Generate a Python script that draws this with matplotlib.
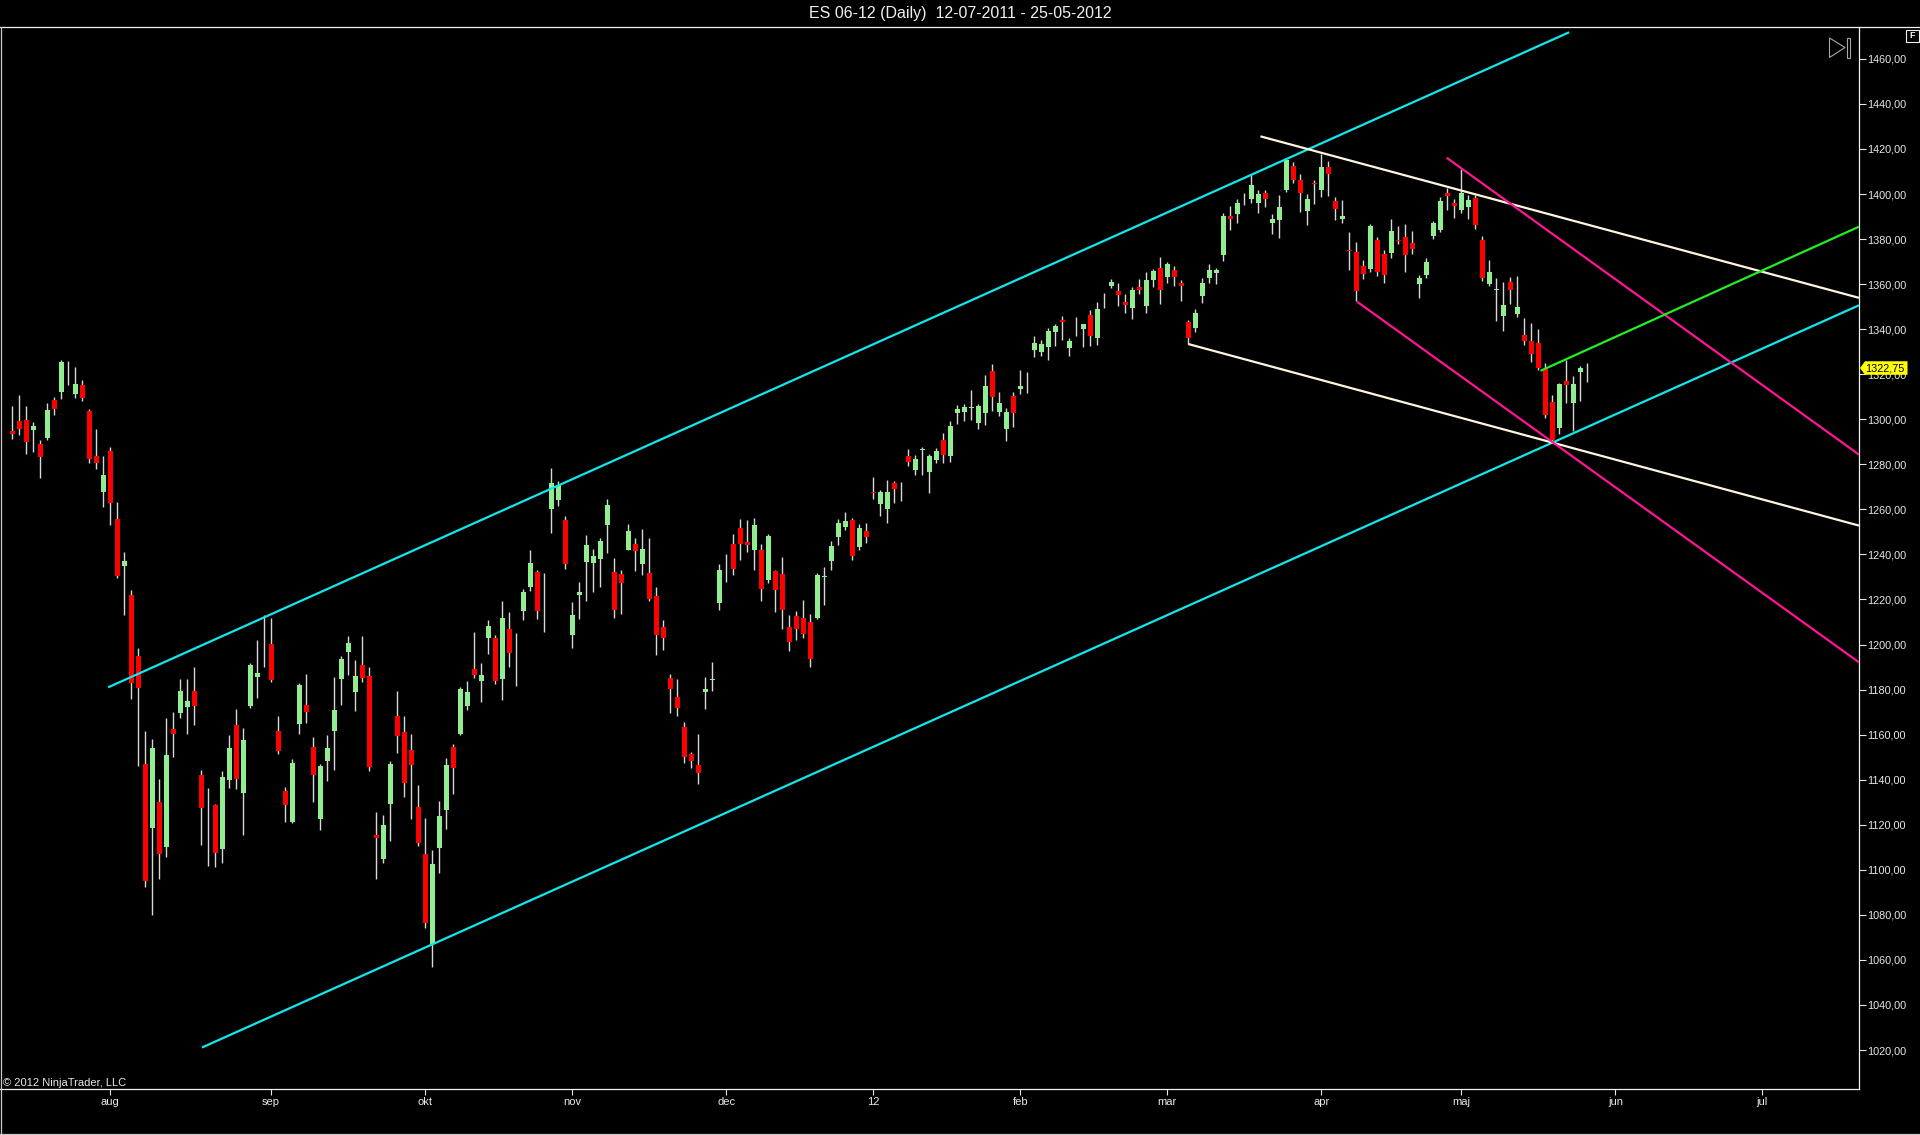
import matplotlib
matplotlib.use("Agg")
import numpy as np
import matplotlib.pyplot as plt
import matplotlib.transforms as mtransforms
from matplotlib.patches import Polygon, Rectangle
from matplotlib.lines import Line2D

plt.rcParams['font.family'] = ['Liberation Sans', 'DejaVu Sans']

# ES 06-12 daily bars 12-07-2011 .. 25-05-2012, one entry per trading day
opens = [1294.7, 1299.1, 1299.6, 1295.3, 1288.9, 1291.6, 1308.4, 1312.0, 1320.5, 1311.2,
         1315.1, 1303.7, 1283.6, 1267.8, 1285.8, 1255.6, 1235.0, 1221.9, 1194.7, 1146.8,
         1118.6, 1130.0, 1110.1, 1162.4, 1169.6, 1172.3, 1179.2, 1141.9, 1121.0, 1128.6,
         1109.2, 1139.8, 1164.1, 1134.0, 1172.6, 1185.5, 1204.0, 1200.2, 1161.4, 1135.2,
         1121.3, 1164.8, 1173.0, 1154.4, 1122.5, 1148.3, 1161.6, 1184.5, 1196.8, 1178.9,
         1191.0, 1185.9, 1115.3, 1104.6, 1129.4, 1168.5, 1161.0, 1153.4, 1127.7, 1107.2,
         1067.0, 1109.6, 1126.6, 1154.7, 1160.3, 1172.6, 1189.3, 1183.9, 1202.9, 1202.9,
         1184.8, 1206.9, 1194.0, 1214.9, 1225.6, 1232.1, 1217.0, 1260.2, 1264.2, 1255.1,
         1204.2, 1222.0, 1236.6, 1236.3, 1237.9, 1253.1, 1232.3, 1231.2, 1242.1, 1244.8,
         1235.7, 1231.6, 1221.4, 1208.0, 1185.0, 1176.9, 1163.6, 1151.6, 1146.7, 1178.9,
         1184.2, 1218.4, 1235.0, 1244.5, 1251.6, 1245.4, 1241.8, 1241.8, 1228.5, 1232.5,
         1231.1, 1208.0, 1212.5, 1211.9, 1209.8, 1211.8, 1230.0, 1236.9, 1247.7, 1252.0,
         1255.1, 1243.1, 1250.2, 1267.6, 1262.2, 1260.0, 1271.6, 1268.5, 1283.6, 1277.3,
         1286.5, 1276.4, 1281.8, 1290.7, 1283.8, 1302.9, 1303.3, 1305.0, 1298.4, 1302.9,
         1321.4, 1303.3, 1295.6, 1310.3, 1313.4, 1316.5, 1330.7, 1329.8, 1332.0, 1338.7,
         1343.7, 1331.6, 1340.5, 1340.0, 1346.2, 1336.0, 1352.5, 1359.1, 1356.9, 1352.0,
         1349.4, 1358.7, 1350.2, 1361.8, 1367.1, 1363.1, 1366.2, 1360.5, 1343.1, 1340.5,
         1354.7, 1362.7, 1364.9, 1372.9, 1390.2, 1391.1, 1398.0, 1397.8, 1396.0, 1400.4,
         1387.1, 1388.4, 1401.8, 1412.4, 1406.2, 1392.4, 1404.8, 1401.8, 1412.0, 1396.9,
         1388.9, 1375.0, 1374.2, 1368.0, 1366.7, 1379.5, 1373.3, 1373.8, 1379.6, 1380.9,
         1378.2, 1360.0, 1364.0, 1381.3, 1384.0, 1400.4, 1396.0, 1392.9, 1394.2, 1398.2,
         1379.5, 1360.0, 1357.6, 1345.8, 1360.9, 1346.7, 1337.3, 1334.7, 1333.8, 1322.2,
         1307.6, 1296.0, 1316.9, 1307.1, 1320.9, 1322.75]
highs = [1306.0, 1310.6, 1306.0, 1298.9, 1290.9, 1307.1, 1309.8, 1326.5, 1326.0, 1323.2,
         1317.6, 1304.4, 1295.9, 1283.6, 1287.7, 1263.2, 1241.0, 1224.1, 1198.5, 1161.4,
         1158.2, 1140.2, 1167.2, 1169.9, 1184.5, 1184.5, 1190.0, 1144.1, 1136.1, 1129.3,
         1143.7, 1159.7, 1171.6, 1162.8, 1191.7, 1201.9, 1212.9, 1211.7, 1168.2, 1136.7,
         1149.0, 1182.8, 1187.1, 1158.9, 1147.1, 1159.7, 1185.4, 1194.7, 1203.7, 1193.0,
         1203.7, 1190.0, 1125.5, 1124.5, 1148.1, 1179.4, 1168.5, 1160.1, 1137.8, 1122.8,
         1109.0, 1130.4, 1149.8, 1155.8, 1181.2, 1183.9, 1205.6, 1192.0, 1210.7, 1204.4,
         1219.2, 1214.3, 1205.1, 1224.7, 1241.9, 1233.2, 1231.6, 1278.2, 1272.7, 1256.9,
         1218.7, 1227.9, 1248.8, 1242.3, 1247.5, 1264.4, 1238.3, 1233.2, 1253.7, 1247.3,
         1251.5, 1247.2, 1225.4, 1211.1, 1187.1, 1184.5, 1165.4, 1152.5, 1160.5, 1185.4,
         1192.1, 1235.9, 1240.0, 1248.9, 1255.6, 1255.1, 1256.0, 1244.8, 1249.2, 1233.0,
         1238.7, 1213.2, 1214.7, 1219.6, 1213.4, 1231.9, 1234.3, 1245.8, 1255.6, 1258.7,
         1256.0, 1253.3, 1253.8, 1274.2, 1268.5, 1272.9, 1272.5, 1272.0, 1286.7, 1284.0,
         1287.7, 1284.4, 1287.1, 1293.8, 1299.2, 1306.3, 1306.7, 1312.9, 1306.7, 1319.6,
         1324.5, 1312.0, 1305.0, 1312.0, 1321.8, 1320.9, 1336.9, 1335.1, 1340.5, 1342.3,
         1345.8, 1336.0, 1345.4, 1342.5, 1348.5, 1352.0, 1356.0, 1362.2, 1360.5, 1355.6,
         1358.7, 1362.2, 1365.3, 1366.7, 1372.0, 1369.8, 1368.0, 1361.8, 1344.0, 1348.9,
         1362.7, 1368.9, 1367.1, 1391.5, 1394.6, 1397.8, 1400.4, 1408.4, 1401.8, 1401.8,
         1391.1, 1399.5, 1416.0, 1414.2, 1408.9, 1400.0, 1406.2, 1417.7, 1414.6, 1398.6,
         1397.3, 1383.1, 1378.7, 1370.7, 1386.6, 1380.9, 1375.1, 1388.9, 1385.8, 1386.6,
         1383.5, 1364.0, 1371.6, 1388.0, 1398.6, 1402.6, 1397.8, 1411.1, 1399.5, 1399.5,
         1381.3, 1370.7, 1362.7, 1360.9, 1363.1, 1363.6, 1344.9, 1342.7, 1340.0, 1324.9,
         1310.7, 1316.0, 1326.2, 1319.1, 1323.6, 1324.9]
lows = [1291.1, 1293.0, 1284.6, 1285.5, 1273.9, 1290.8, 1301.8, 1308.9, 1315.4, 1309.5,
        1308.3, 1280.6, 1277.8, 1261.0, 1253.0, 1229.6, 1213.1, 1175.7, 1146.3, 1092.4,
        1080.0, 1096.1, 1105.5, 1150.0, 1167.2, 1160.2, 1164.3, 1110.9, 1101.7, 1101.2,
        1102.9, 1136.4, 1135.9, 1115.5, 1171.8, 1176.4, 1190.0, 1183.2, 1151.4, 1121.3,
        1121.0, 1160.2, 1165.0, 1130.1, 1117.7, 1139.5, 1144.2, 1173.1, 1186.6, 1170.6,
        1183.3, 1143.7, 1096.0, 1102.9, 1112.8, 1151.8, 1132.2, 1122.4, 1110.5, 1074.2,
        1057.0, 1098.5, 1118.1, 1133.7, 1160.0, 1171.0, 1185.3, 1174.3, 1196.0, 1182.4,
        1175.4, 1190.2, 1181.5, 1210.7, 1223.8, 1211.3, 1205.6, 1249.5, 1261.5, 1233.7,
        1198.4, 1211.3, 1219.2, 1223.2, 1225.6, 1240.6, 1211.6, 1213.6, 1242.0, 1232.7,
        1230.7, 1219.4, 1195.3, 1197.5, 1169.4, 1168.2, 1147.3, 1145.1, 1137.9, 1171.3,
        1179.2, 1215.2, 1227.6, 1230.7, 1237.4, 1241.1, 1232.9, 1219.2, 1227.3, 1214.4,
        1206.7, 1197.1, 1201.8, 1202.7, 1190.0, 1211.5, 1217.4, 1233.2, 1244.0, 1250.7,
        1237.4, 1241.8, 1244.9, 1264.5, 1256.9, 1253.8, 1262.7, 1263.6, 1279.1, 1275.1,
        1275.1, 1267.1, 1280.4, 1280.4, 1281.1, 1297.8, 1299.2, 1299.6, 1295.6, 1297.4,
        1303.6, 1301.5, 1290.4, 1296.6, 1311.2, 1311.6, 1327.6, 1328.0, 1326.3, 1332.5,
        1335.1, 1328.0, 1336.9, 1332.0, 1332.5, 1332.9, 1349.4, 1358.2, 1350.2, 1347.1,
        1344.5, 1355.6, 1347.1, 1358.7, 1351.1, 1360.5, 1359.1, 1352.5, 1333.4, 1338.7,
        1351.6, 1360.5, 1360.0, 1370.4, 1384.0, 1387.1, 1395.1, 1396.0, 1391.5, 1394.2,
        1382.2, 1380.4, 1400.9, 1404.9, 1392.0, 1386.2, 1395.5, 1398.6, 1399.1, 1388.4,
        1387.1, 1366.2, 1352.4, 1362.2, 1365.3, 1363.6, 1360.4, 1371.6, 1377.8, 1365.3,
        1373.3, 1353.8, 1362.7, 1380.0, 1383.1, 1392.9, 1389.3, 1391.5, 1388.9, 1384.4,
        1361.3, 1359.1, 1343.6, 1339.1, 1351.1, 1345.3, 1332.9, 1325.4, 1321.8, 1300.5,
        1289.8, 1293.4, 1307.1, 1294.7, 1308.0, 1316.5]
closes = [1293.6, 1295.9, 1289.9, 1297.0, 1283.3, 1304.0, 1304.7, 1325.6, 1320.5, 1315.6,
          1309.5, 1282.3, 1280.6, 1275.1, 1262.7, 1230.4, 1237.0, 1182.8, 1180.8, 1095.0,
          1153.9, 1106.8, 1150.9, 1160.2, 1179.2, 1174.8, 1172.8, 1127.4, 1121.0, 1107.3,
          1141.0, 1153.9, 1140.3, 1157.8, 1190.8, 1187.2, 1204.0, 1184.2, 1152.7, 1128.8,
          1147.3, 1182.0, 1170.1, 1142.0, 1146.3, 1153.9, 1170.9, 1193.4, 1200.5, 1185.9,
          1185.0, 1145.6, 1114.2, 1119.8, 1146.8, 1159.4, 1138.6, 1146.7, 1111.9, 1076.4,
          1102.8, 1123.7, 1146.7, 1145.1, 1180.1, 1178.8, 1186.4, 1186.6, 1208.4, 1183.9,
          1211.6, 1196.2, 1194.0, 1223.4, 1236.1, 1214.9, 1217.0, 1271.8, 1270.9, 1235.7,
          1212.9, 1223.2, 1244.1, 1239.4, 1245.9, 1261.8, 1215.4, 1227.4, 1250.6, 1241.5,
          1242.4, 1220.1, 1204.2, 1202.7, 1180.3, 1171.8, 1150.0, 1148.5, 1142.9, 1180.1,
          1184.4, 1233.2, 1235.0, 1233.4, 1244.6, 1244.0, 1252.9, 1224.5, 1248.0, 1224.0,
          1215.2, 1201.1, 1206.7, 1204.9, 1193.4, 1230.7, 1230.5, 1243.6, 1253.8, 1254.7,
          1239.1, 1251.6, 1247.6, 1267.3, 1267.6, 1267.6, 1268.9, 1268.5, 1280.9, 1282.2,
          1286.7, 1283.6, 1285.8, 1284.1, 1296.9, 1304.5, 1305.4, 1305.3, 1305.8, 1314.7,
          1310.0, 1307.2, 1303.2, 1302.9, 1314.7, 1316.5, 1333.8, 1333.4, 1339.1, 1341.4,
          1343.4, 1334.7, 1340.5, 1342.3, 1336.9, 1348.9, 1352.5, 1360.9, 1355.1, 1350.7,
          1357.4, 1357.4, 1361.8, 1365.8, 1357.4, 1368.9, 1363.1, 1359.1, 1336.0, 1347.1,
          1360.5, 1366.2, 1366.2, 1390.2, 1389.0, 1396.0, 1398.0, 1404.0, 1400.0, 1397.8,
          1388.9, 1394.2, 1415.1, 1406.2, 1400.4, 1397.8, 1404.5, 1412.0, 1408.9, 1393.3,
          1390.2, 1374.7, 1356.9, 1364.4, 1385.8, 1365.3, 1364.0, 1383.5, 1379.3, 1372.9,
          1375.5, 1362.7, 1369.8, 1387.1, 1396.9, 1399.1, 1394.6, 1400.4, 1397.3, 1386.2,
          1362.7, 1365.3, 1358.0, 1350.7, 1357.3, 1349.8, 1334.7, 1328.9, 1322.7, 1301.8,
          1290.7, 1315.6, 1315.1, 1315.6, 1322.7, 1322.75]

# first bar of each month on the bar axis
month_bars = [14, 37, 59, 80, 102, 123, 144, 165, 187, 207, 229, 250]
month_labels = ['aug', 'sep', 'okt', 'nov', 'dec', '12', 'feb', 'mar', 'apr', 'maj', 'jun', 'jul']
price_ticks = list(range(1020, 1461, 20))

# drawing-tool lines: ((bar, price), (bar, price))
cyan_lines = [((13.7, 1181.0), (222.4, 1471.8)),
              ((27.1, 1021.1), (263.8, 1350.6))]
cream_lines = [((178.3, 1425.6), (263.8, 1353.9)),
               ((168.0, 1333.4), (263.8, 1252.8))]
pink_lines = [((204.9, 1416.1), (263.8, 1284.3)),
              ((192.1, 1352.2), (263.8, 1192.1))]
green_lines = [((218.3, 1321.5), (263.8, 1385.5))]

W, H = 1920, 1135
fig = plt.figure(figsize=(W / 100, H / 100), dpi=100, facecolor='black')


def fx(x):
    # pixel column -> figure fraction
    return x / W


def fy(y):
    # pixel row (from top) -> figure fraction
    return 1 - y / H


ax = fig.add_axes([0, fy(1089), fx(1859), fy(27.3) - fy(1089)])
ax.set_facecolor('black')

o = np.array(opens)
c = np.array(closes)
hi = np.array(highs)
lo = np.array(lows)
x = np.arange(len(o))
up = c >= o
body_bottom = np.minimum(o, c)
body_h = np.abs(c - o)
body_h = np.where((body_h > 0) & (body_h < 0.45), 0.45, body_h)   # keep dojis visible
colors = np.where(up, '#90EE90', '#FF0000')

ax.vlines(x, lo, hi, color='#D8D8D8', lw=1.0, zorder=2)
ax.bar(x, body_h, bottom=body_bottom, width=0.72, color=colors, linewidth=0, zorder=3)

for lines, col in [(cyan_lines, '#10E8EE'), (cream_lines, '#FFF5DC'),
                   (pink_lines, '#FF1493'), (green_lines, '#22EE22')]:
    for (x0, y0), (x1, y1) in lines:
        ax.plot([x0, x1], [y0, y1], color=col, lw=1.6, zorder=4, solid_capstyle='butt')

ax.set_xlim(-1.74, 263.8)
ax.set_ylim(1002.7, 1474.0)

ax.yaxis.tick_right()
ax.set_yticks(price_ticks)
ax.set_yticklabels([f"{v:.2f}".replace('.', ',') for v in price_ticks])
ax.set_xticks(month_bars)
ax.set_xticklabels(month_labels)
ax.tick_params(axis='y', direction='out', length=5, width=0.8, colors='#E8E8E8',
               labelsize=7.8, pad=1)
ax.tick_params(axis='x', direction='out', length=4.3, width=0.8, colors='#E8E8E8',
               labelsize=8, pad=1.5)
for side in ['left', 'top']:
    ax.spines[side].set_visible(False)
for side in ['right', 'bottom']:
    ax.spines[side].set_color('#F0F0F0')
    ax.spines[side].set_linewidth(0.9)

fig.text(fx(3), fy(1083.5), '\u00a9 2012 NinjaTrader, LLC', color='#E8E8E8',
         fontsize=8, ha='left', va='center')

# title and top frame line
fig.text(0.5, fy(13.3), 'ES 06-12 (Daily)  12-07-2011 - 25-05-2012', color='#F0F0F0',
         fontsize=11.5, ha='center', va='center')
fig.add_artist(Line2D([0, 1], [fy(27.3), fy(27.3)], transform=fig.transFigure,
                      color='#F0F0F0', lw=0.9))
# window border
fig.add_artist(Line2D([fx(0.5), fx(0.5)], [0, fy(27.3)], transform=fig.transFigure,
                      color='#C8C8C8', lw=0.9))
fig.add_artist(Line2D([0, 1], [fy(1133.5), fy(1133.5)], transform=fig.transFigure,
                      color='#C8C8C8', lw=0.9))

# "go to last bar" icon and F box
fig.add_artist(Polygon([(fx(1829.5), fy(38)), (fx(1845), fy(47.5)), (fx(1829.5), fy(57.5))],
                       closed=True, fill=False, edgecolor='#A8A8A8', lw=0.8,
                       transform=fig.transFigure))
fig.add_artist(Rectangle((fx(1846.8), fy(57.5)), fx(3.4), fy(38) - fy(57.5), fill=False,
                         edgecolor='#A8A8A8', lw=0.8, transform=fig.transFigure))
fig.add_artist(Rectangle((fx(1906), fy(41.5)), fx(12.5), fy(29.5) - fy(41.5), fill=False,
                         edgecolor='#F0F0F0', lw=0.8, transform=fig.transFigure))
fig.text(fx(1912.2), fy(35.5), 'F', color='#F0F0F0', fontsize=6.5, fontweight='bold',
         ha='center', va='center')

# last price marker on the price axis
last = closes[-1]
blend = mtransforms.blended_transform_factory(fig.transFigure, ax.transData)
fig.add_artist(Polygon([(fx(1860), last), (fx(1865), last + 3.0), (fx(1907.5), last + 3.0),
                        (fx(1907.5), last - 3.0), (fx(1865), last - 3.0)], closed=True,
                       facecolor='#FFFF00', edgecolor='none', transform=blend, zorder=5))
fig.text(fx(1865.5), last, f"{last:.2f}".replace('.', ','), transform=blend, color='black',
         fontsize=7.8, ha='left', va='center', zorder=6)

fig.savefig('out.png', dpi=100, facecolor='black')
